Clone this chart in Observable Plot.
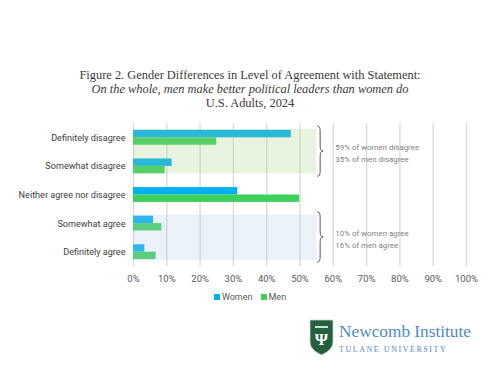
<!DOCTYPE html>
<html>
<head>
<meta charset="utf-8">
<script src="https://cdn.jsdelivr.net/npm/d3@7"></script>
<script src="https://cdn.jsdelivr.net/npm/@observablehq/plot@0.6"></script>
<style>
  html, body { margin: 0; padding: 0; background: #ffffff; }
  #page { position: relative; width: 500px; height: 375px; overflow: hidden; background: #fff; }
  #title { position: absolute; left: 0; top: 68px; width: 500px; text-align: center;
    font-family: "Liberation Serif", "Times New Roman", serif; font-size: 12.4px; line-height: 14px; color: #3a3a3a; }
  #title .it { font-style: italic; }
  #chart { position: absolute; left: 0; top: 110px; }
  #legend { position: absolute; left: 0; top: 292px; width: 500px; text-align: center;
    font-family: Roboto, sans-serif; font-size: 9px; color: #595959; }
  #legend span.sw { display: inline-block; width: 6px; height: 6px; margin-right: 2px; vertical-align: 0px; }
  #legend span.item { margin: 0 4px; }
  #logo { position: absolute; left: 308px; top: 318px; }
</style>
</head>
<body>
<div id="page">
  <div id="title"></div>
  <div id="chart"></div>
  <div id="legend"></div>
  <div id="logo"></div>
</div>
<script>
// ---- data ----
const titleLines = [
  "Figure 2. Gender Differences in Level of Agreement with Statement:",
  "On the whole, men make better political leaders than women do",
  "U.S. Adults, 2024"
];
const categories = [
  "Definitely disagree",
  "Somewhat disagree",
  "Neither agree nor disagree",
  "Somewhat agree",
  "Definitely agree"
];
const series = ["Women", "Men"];
const womenValues = [47.4, 11.6, 31.3, 6.0, 3.4];
const menValues = [25.0, 9.5, 49.9, 8.5, 6.8];
const xTicks = [0, 10, 20, 30, 40, 50, 60, 70, 80, 90, 100];
const groupFirst = ["Definitely disagree", "Somewhat agree"];
const groupLast = ["Somewhat disagree", "Definitely agree"];
const groupNotes = [
  ["59% of women disagree", "35% of men disagree"],
  ["10% of women agree", "16% of men agree"]
];
const shadeEnd = 55;
const braceAt = 55.3;
const noteAt = 60.6;
const seriesColors = ["#00b0f0", "#3dd15c"];
const shadeColors = ["#a3cf83", "#abc7e3"];

// ---- layout ----
const W = 500, H = 180, mt = 13, mb = 24, ml = 133, mr = 34;
const pInner = 0.48;
const step = (H - mt - mb) / categories.length;
const bw = step * (1 - pInner);

const rows = [];
categories.forEach((c, i) => {
  rows.push({cat: c, series: "Women", value: womenValues[i]});
  rows.push({cat: c, series: "Men", value: menValues[i]});
});
const groups = groupFirst.map((f, i) => ({first: f, last: groupLast[i], notes: groupNotes[i], shade: shadeColors[i]}));

function braceMark(index, scales) {
  const x = scales.x, y = scales.y;
  const g = d3.create("svg:g").attr("fill", "none").attr("stroke", "#5a5a5a").attr("stroke-width", 1);
  groups.forEach(gr => {
    const x0 = x(braceAt), w = 6, hw = w / 2, r = 5;
    const y0 = y(gr.first) - 4;
    const y1 = y(gr.last) + bw + 3;
    const ym = (y0 + y1) / 2;
    const d = `M${x0},${y0} Q${x0 + hw},${y0} ${x0 + hw},${y0 + r} L${x0 + hw},${ym - r} Q${x0 + hw},${ym} ${x0 + w},${ym} Q${x0 + hw},${ym} ${x0 + hw},${ym + r} L${x0 + hw},${y1 - r} Q${x0 + hw},${y1} ${x0},${y1}`;
    g.append("path").attr("d", d);
  });
  return g.node();
}

const chart = Plot.plot({
  width: W, height: H,
  marginTop: mt, marginBottom: mb, marginLeft: ml, marginRight: mr,
  style: {fontFamily: "Roboto, sans-serif", fontSize: "9px", background: "transparent", color: "#404040"},
  x: {domain: [0, 100], label: null},
  y: {domain: categories, paddingInner: pInner, paddingOuter: pInner / 2, round: false, label: null},
  color: {domain: series, range: seriesColors},
  marks: [
    Plot.gridX(xTicks, {stroke: "#d9d9d9", strokeOpacity: 1, strokeWidth: 1.3}),
    Plot.barX(rows.filter(d => d.series === "Women"), {x: "value", y: "cat", fill: "series", insetBottom: bw / 2}),
    Plot.barX(rows.filter(d => d.series === "Men"), {x: "value", y: "cat", fill: "series", insetTop: bw / 2}),
    Plot.barX(groups.slice(0, 1), {x1: 0, x2: shadeEnd, y: "first", fill: shadeColors[0], fillOpacity: 0.25, insetTop: -1, insetBottom: -step}),
    Plot.barX(groups.slice(1, 2), {x1: 0, x2: shadeEnd, y: "first", fill: shadeColors[1], fillOpacity: 0.25, insetTop: -1, insetBottom: -step - 1}),
    braceMark,
    Plot.text(groups, {x: () => noteAt, y: "first", dy: step / 2, text: d => d.notes.join("\n"),
      textAnchor: "start", lineHeight: 1.55, fontSize: 7.9, fill: "#7f7f7f"}),
    Plot.axisX({ticks: xTicks, tickFormat: d => d + "%", tickSize: 0, tickPadding: 9, fill: "#595959", fontSize: 9.5, label: null}),
    Plot.axisY({tickSize: 0, tickPadding: 8, fill: "#404040", fontSize: 9.1, label: null})
  ]
});
document.getElementById("chart").appendChild(chart);

// title
const t = document.getElementById("title");
titleLines.forEach((s, i) => {
  const div = document.createElement("div");
  div.textContent = s;
  if (i === 1) div.className = "it";
  t.appendChild(div);
});

// legend
const lg = document.getElementById("legend");
series.forEach((s, i) => {
  const item = document.createElement("span");
  item.className = "item";
  const sw = document.createElement("span");
  sw.className = "sw";
  sw.style.background = seriesColors[i];
  item.appendChild(sw);
  item.appendChild(document.createTextNode(s));
  lg.appendChild(item);
});

// logo
document.getElementById("logo").innerHTML = `
<svg width="190" height="42" xmlns="http://www.w3.org/2000/svg">
  <path d="M2,2 H25 V24 Q25,32 13.5,37 Q2,32 2,24 Z" fill="#22603f" stroke="#c9d6cc" stroke-width="0.8"/>
  <line x1="7" y1="9" x2="20" y2="9" stroke="#fff" stroke-width="1.6"/>
  <text x="13.5" y="27" text-anchor="middle" font-family="Liberation Serif, serif" font-size="17" font-weight="bold" fill="#ffffff">Ψ</text>
  <text x="31" y="19" font-family="Liberation Serif, serif" font-size="17.3" fill="#5189c9">Newcomb Institute</text>
  <text x="31" y="34" font-family="Liberation Serif, serif" font-size="8" letter-spacing="1.55" fill="#5189c9">TULANE UNIVERSITY</text>
</svg>`;
</script>
</body>
</html>
